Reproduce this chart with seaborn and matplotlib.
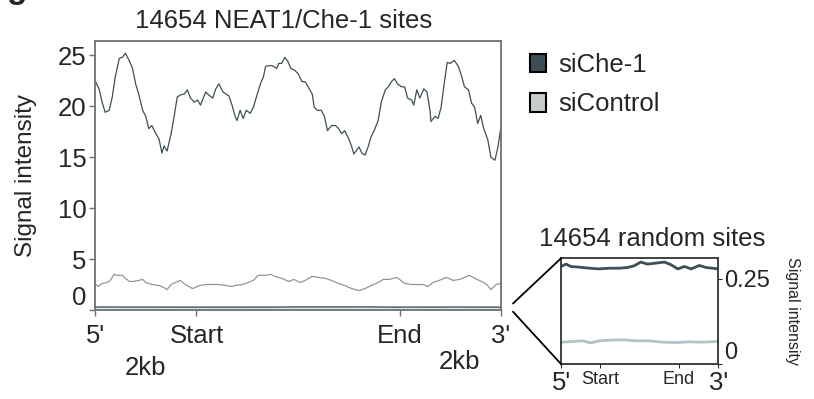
import numpy as np
import pandas as pd
import matplotlib
matplotlib.use("Agg")
import matplotlib.pyplot as plt
import seaborn as sns
from matplotlib.patches import Patch, ConnectionPatch

# profile bins: 5' flank = 0-100, region body = 100-300, 3' flank = 300-400
tick_pos = [0, 100, 300, 400]
tick_labels = ["5'", "Start", "End", "3'"]

# NEAT1/Che-1 sites, siChe-1
che_bins = [0, 4, 7, 10, 14, 17, 20, 24, 27, 30, 34, 37, 40, 43, 47, 50, 53, 56, 60, 63,
            66, 68, 71, 75, 78, 81, 84, 88, 91, 94, 98, 101, 104, 109, 112, 116, 119, 122, 126, 129,
            132, 135, 138, 140, 143, 146, 149, 153, 156, 159, 163, 166, 168, 173, 176, 179, 181, 184, 187, 190,
            193, 197, 200, 204, 207, 210, 214, 216, 219, 223, 226, 229, 233, 237, 240, 243, 246, 250, 253, 255,
            260, 263, 266, 269, 272, 275, 279, 282, 286, 289, 292, 295, 298, 302, 305, 308, 312, 314, 317, 320,
            324, 327, 330, 331, 335, 338, 341, 344, 347, 350, 354, 358, 361, 364, 368, 371, 374, 377, 380, 383,
            387, 390, 394, 397, 400]
che_vals = [22.5, 21.7, 20.4, 19.4, 19.6, 20.9, 22.9, 24.7, 24.8, 25.2, 24.4, 23.7, 22.2, 21.2, 19.6, 19.0, 17.8, 18.1, 17.3, 16.8,
            15.4, 16.1, 15.6, 17.3, 19.0, 20.9, 21.1, 21.2, 21.6, 20.8, 20.4, 20.6, 20.1, 21.4, 21.1, 20.8, 21.7, 22.2, 21.4, 21.2,
            21.0, 20.1, 19.0, 18.6, 19.6, 18.8, 19.6, 19.3, 19.9, 20.9, 22.2, 22.9, 23.9, 24.0, 23.9, 23.7, 24.2, 24.2, 24.8, 24.4,
            23.7, 23.5, 23.2, 22.4, 22.4, 21.9, 21.2, 19.9, 19.6, 19.6, 19.0, 17.6, 18.1, 18.1, 17.8, 17.3, 17.6, 16.8, 16.0, 15.3,
            16.0, 15.4, 15.2, 16.0, 17.0, 17.6, 18.6, 20.4, 21.6, 21.9, 22.4, 22.7, 22.2, 21.9, 21.9, 20.8, 20.6, 20.1, 21.6, 20.8,
            21.7, 21.4, 19.6, 18.5, 19.0, 18.8, 19.9, 22.2, 24.3, 24.2, 24.5, 23.9, 23.0, 21.9, 21.6, 20.3, 19.9, 18.3, 19.1, 17.8,
            16.7, 15.0, 14.7, 16.0, 18.0]

# NEAT1/Che-1 sites, siControl
ctl_bins = [0, 3, 7, 12, 15, 19, 22, 27, 30, 34, 38, 43, 47, 50, 56, 63, 68, 71, 75, 79,
            84, 89, 96, 103, 109, 116, 122, 129, 135, 138, 145, 151, 156, 161, 168, 173, 177, 184, 191, 196,
            202, 207, 214, 220, 227, 233, 240, 246, 253, 260, 266, 272, 279, 284, 290, 297, 300, 305, 312, 318,
            323, 328, 333, 339, 346, 353, 359, 364, 369, 374, 381, 386, 390, 395, 400]
ctl_vals = [2.6, 2.3, 2.6, 2.7, 2.9, 3.5, 3.4, 3.4, 3.1, 2.8, 2.8, 2.9, 3.0, 2.7, 2.5, 2.4, 2.2, 2.0, 2.5, 2.7,
            2.9, 2.5, 2.1, 2.4, 2.5, 2.5, 2.5, 2.4, 2.3, 2.4, 2.5, 2.7, 2.9, 3.4, 3.4, 3.5, 3.3, 3.1, 2.8, 3.0,
            2.7, 2.9, 3.3, 3.2, 3.1, 2.9, 2.6, 2.4, 2.1, 1.9, 2.1, 2.4, 2.7, 3.0, 3.0, 3.2, 3.0, 2.6, 2.5, 2.5,
            2.5, 2.3, 2.7, 2.9, 3.2, 2.9, 3.0, 3.2, 3.4, 3.1, 2.8, 2.5, 2.0, 2.5, 2.6]

# random sites
rnd_che_bins = [0, 13, 25, 47, 72, 97, 123, 148, 169, 186, 203, 220, 242, 263, 280, 297, 314, 331, 352, 369, 386, 400]
rnd_che_vals = [0.286, 0.293, 0.286, 0.284, 0.281, 0.279, 0.281, 0.281, 0.283, 0.288, 0.299, 0.293, 0.296, 0.299,
                0.291, 0.279, 0.286, 0.279, 0.289, 0.283, 0.281, 0.279]
rnd_ctl_bins = [0, 30, 55, 76, 97, 123, 157, 191, 225, 259, 292, 326, 360, 400]
rnd_ctl_vals = [0.064, 0.066, 0.068, 0.062, 0.068, 0.070, 0.071, 0.068, 0.068, 0.064, 0.063, 0.065, 0.064, 0.066]

dark = "#3e4f56"
mid = "#8e9899"
light = "#b3c1c4"

sns.set_style("ticks")
plt.rcParams['font.family'] = ['Liberation Sans', 'DejaVu Sans']

main_df = pd.concat([
    pd.DataFrame({"bin": che_bins, "signal": che_vals, "cond": "siChe-1"}),
    pd.DataFrame({"bin": ctl_bins, "signal": ctl_vals, "cond": "siControl"}),
])
rnd_df = pd.concat([
    pd.DataFrame({"bin": rnd_che_bins, "signal": rnd_che_vals, "cond": "siChe-1"}),
    pd.DataFrame({"bin": rnd_ctl_bins, "signal": rnd_ctl_vals, "cond": "siControl"}),
])

fig = plt.figure(figsize=(8.14, 3.99), dpi=100)
ax = fig.add_axes([0.1167, 0.2231, 0.4988, 0.6742])
ins = fig.add_axes([0.6892, 0.0877, 0.1932, 0.2649])

# main panel
sns.lineplot(data=main_df, x="bin", y="signal", hue="cond", palette={"siChe-1": dark, "siControl": mid},
             linewidth=0.9, legend=False, ax=ax)
sns.lineplot(data=rnd_df, x="bin", y="signal", hue="cond", palette={"siChe-1": dark, "siControl": light},
             linewidth=1.0, legend=False, ax=ax)
ax.set_xlim(0, 400)
ax.set_ylim(0, 26.4)
ax.set_xticks(tick_pos)
ax.set_xticklabels(tick_labels)
ax.set_yticks([0, 5, 10, 15, 20, 25])
ax.tick_params(axis="both", labelsize=18.5, length=4, color="#707070", width=1)
ax.tick_params(axis="x", pad=6)
ax.tick_params(axis="y", pad=2)
for lab in ax.get_yticklabels():
    if lab.get_text() == "0":
        lab.set_va("bottom")
for sp in ax.spines.values():
    sp.set_visible(True)
    sp.set_color("#707070")
    sp.set_linewidth(1.3)
ax.set_xlabel("")
ax.set_ylabel("Signal intensity", fontsize=17.5, labelpad=15)
ax.set_title("14654 NEAT1/Che-1 sites", fontsize=18.5, x=0.464, pad=9)
ax.text(50, -0.215, "2kb", fontsize=18.5, ha="center", va="center", transform=ax.get_xaxis_transform())
ax.text(359, -0.192, "2kb", fontsize=18.5, ha="center", va="center", transform=ax.get_xaxis_transform())

# inset: random sites
sns.lineplot(data=rnd_df, x="bin", y="signal", hue="cond", palette={"siChe-1": dark, "siControl": light},
             linewidth=2.0, legend=False, ax=ins)
ins.set_xlim(0, 400)
ins.set_ylim(0, 0.31)
ins.set_xticks(tick_pos)
ins.set_xticklabels(tick_labels)
for lab in ins.get_xticklabels():
    lab.set_fontsize(18.5 if lab.get_text() in ("5'", "3'") else 13)
ins.yaxis.tick_right()
ins.yaxis.set_label_position("right")
ins.set_yticks([0, 0.25])
ins.set_yticklabels(["0", "0.25"])
ins.tick_params(axis="y", labelsize=17, length=3, pad=1)
ins.tick_params(axis="x", length=3, pad=2)
for lab in ins.get_yticklabels():
    if lab.get_text() == "0":
        lab.set_va("bottom")
for sp in ins.spines.values():
    sp.set_visible(True)
    sp.set_color("#333333")
    sp.set_linewidth(1.3)
ins.set_xlabel("")
ins.set_ylabel("Signal intensity", fontsize=11.5, rotation=270, labelpad=22)
ins.set_title("14654 random sites", fontsize=18.5, x=0.577, pad=9)

# zoom-out connector lines
for ya, yb in [(1, 95.5), (0, 87.3)]:
    con = ConnectionPatch(xyA=(0, ya), coordsA=ins.transAxes, xyB=(513, yb), coordsB="figure pixels",
                          color="black", linewidth=1.3)
    fig.add_artist(con)

# legend
handles = [Patch(facecolor="#3d4e55", edgecolor="black", linewidth=1.5, label="siChe-1"),
           Patch(facecolor="#c9cccd", edgecolor="black", linewidth=1.5, label="siControl")]
fig.legend(handles=handles, loc="upper left", bbox_to_anchor=(0.638, 0.893), frameon=False, fontsize=18.5,
           handlelength=0.65, handleheight=0.75, handletextpad=0.45, labelspacing=0.6, borderaxespad=0)

# panel letter (cut off at the top, as in the source figure)
fig.text(0.008, 1.006, "g", fontsize=24, fontweight="bold", va="baseline", ha="left")

fig.savefig("out.png", dpi=100)
